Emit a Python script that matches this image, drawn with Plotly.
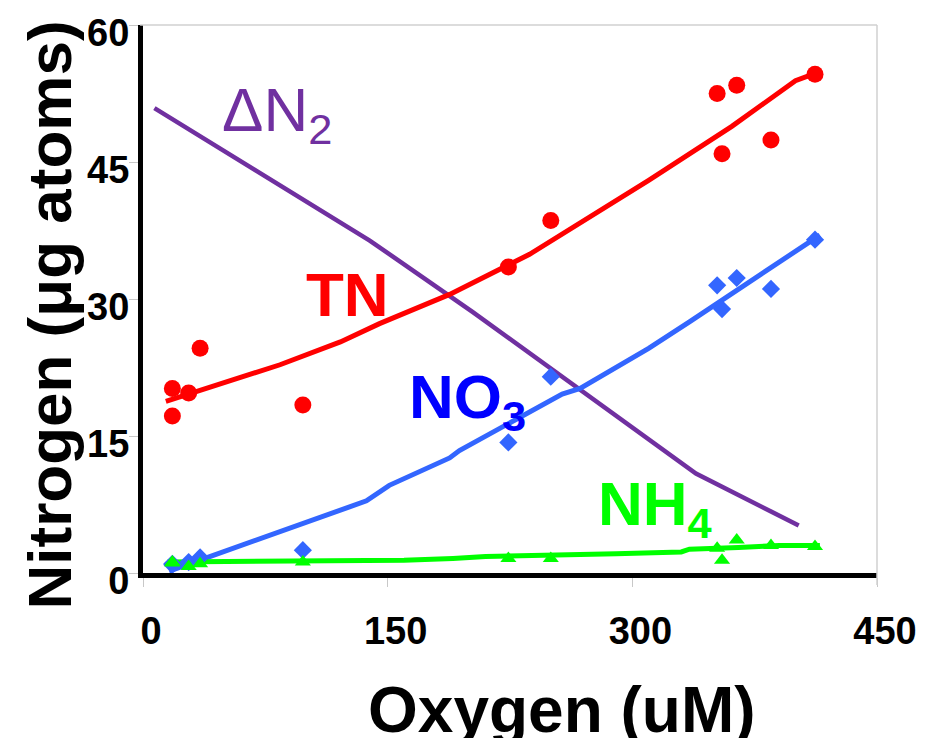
import plotly.graph_objects as go

# ---- data ----
oxygen = [18, 18, 28, 35, 98, 224, 250, 352, 355, 364, 385, 412]
tn_obs = [20.2, 17.2, 19.7, 24.6, 18.4, 33.5, 38.6, 52.5, 45.9, 53.4, 47.4, 54.6]
no3_obs = [0.9, 1.0, 1.2, 1.7, 2.5, 14.3, 21.5, 31.5, 28.9, 32.3, 31.1, 36.5]
nh4_obs = [1.2, 1.1, 0.7, 1.0, 1.2, 1.6, 1.6, 2.7, 1.4, 3.6, 3.0, 2.9]

tn_fit_x = [14, 84, 121, 145, 188, 237, 310, 361, 400, 415]
tn_fit_y = [18.8, 22.8, 25.3, 27.3, 30.5, 34.9, 43.0, 48.9, 53.9, 54.9]

no3_fit_x = [16, 35, 65, 96, 137, 151, 188, 194, 257, 268, 310, 335, 415]
no3_fit_y = [0.2, 1.4, 3.3, 5.2, 7.9, 9.6, 12.6, 13.4, 19.6, 20.2, 24.6, 27.5, 37.0]

nh4_fit_x = [15, 100, 160, 190, 210, 290, 330, 335, 360, 365, 390, 415]
nh4_fit_y = [1.2, 1.3, 1.4, 1.6, 1.8, 2.1, 2.3, 2.6, 2.7, 2.8, 3.0, 3.0]

dn2_x = [7, 139, 202, 339, 402]
dn2_y = [50.9, 36.4, 28.6, 10.9, 5.2]

x_ticks = [0, 150, 300, 450]
y_ticks = [0, 15, 30, 45, 60]

RED = "#FF0000"
BLUE = "#3366FF"
GREEN = "#00FF00"
PURPLE = "#7030A0"
FONT = "Liberation Sans, Arial, sans-serif"

fig = go.Figure()
fig.add_trace(go.Scatter(x=dn2_x, y=dn2_y, mode="lines",
                         line=dict(color=PURPLE, width=4.5)))
fig.add_trace(go.Scatter(x=tn_fit_x, y=tn_fit_y, mode="lines",
                         line=dict(color=RED, width=5)))
fig.add_trace(go.Scatter(x=no3_fit_x, y=no3_fit_y, mode="lines",
                         line=dict(color=BLUE, width=5)))
fig.add_trace(go.Scatter(x=nh4_fit_x, y=nh4_fit_y, mode="lines",
                         line=dict(color=GREEN, width=5)))
fig.add_trace(go.Scatter(x=oxygen, y=tn_obs, mode="markers",
                         marker=dict(color=RED, size=17, symbol="circle")))
fig.add_trace(go.Scatter(x=oxygen, y=no3_obs, mode="markers",
                         marker=dict(color=BLUE, size=14, symbol="diamond")))
fig.add_trace(go.Scatter(x=oxygen, y=nh4_obs, mode="markers",
                         marker=dict(color=GREEN, size=14, symbol="triangle-up")))

labels = [
    ("\u0394N<sub>2</sub>", 47.0, 50.3, PURPLE),
    ("<b>TN</b>", 99.0, 30.5, RED),
    ("<b>NO<sub>3</sub></b>", 162.0, 18.8, "#0000FF"),
    ("<b>NH<sub>4</sub></b>", 277.5, 7.1, GREEN),
]
for txt, x, y, col in labels:
    fig.add_annotation(x=x, y=y, xref="x", yref="y", text=txt, showarrow=False,
                       xanchor="left", yanchor="middle",
                       font=dict(family=FONT, size=62, color=col))

# axis titles
fig.add_annotation(x=0.571, y=-0.250, xref="paper", yref="paper",
                   text="<b>Oxygen (uM)</b>", showarrow=False,
                   xanchor="center", yanchor="middle",
                   font=dict(family=FONT, size=64, color="black"))
fig.add_annotation(x=-0.128, y=0.47, xref="paper", yref="paper",
                   text="<b>Nitrogen (\u03bcg atoms)</b>", showarrow=False,
                   textangle=-90, xanchor="center", yanchor="middle",
                   font=dict(family=FONT, size=62, color="black"))

# light frame on top and right
fig.add_shape(type="line", xref="paper", yref="paper", x0=-0.004, x1=1, y0=1, y1=1,
              line=dict(color="#d0d0d0", width=1.5))
fig.add_shape(type="line", xref="paper", yref="paper", x0=1, x1=1, y0=-0.022, y1=1,
              line=dict(color="#d0d0d0", width=1.5))

fig.update_xaxes(range=[0, 450], tickvals=x_ticks, showgrid=False, zeroline=False,
                 showline=True, linecolor="black", linewidth=5,
                 ticks="outside", ticklen=9, tickcolor="#c8c8c8", tickwidth=1,
                 ticklabelstandoff=11, ticklabelshift=8,
                 tickfont=dict(family=FONT, size=38, color="black", weight="bold"))
fig.update_yaxes(range=[0, 60], tickvals=y_ticks, showgrid=False, zeroline=False,
                 showline=True, linecolor="black", linewidth=5,
                 ticks="outside", ticklen=9, tickcolor="#c8c8c8", tickwidth=1,
                 ticklabelshift=8, ticklabelstandoff=-8,
                 tickfont=dict(family=FONT, size=38, color="black", weight="bold"))

fig.update_layout(width=929, height=738, showlegend=False,
                  paper_bgcolor="white", plot_bgcolor="white",
                  margin=dict(l=143, r=51, t=20, b=165))

fig.write_html("out.html")
